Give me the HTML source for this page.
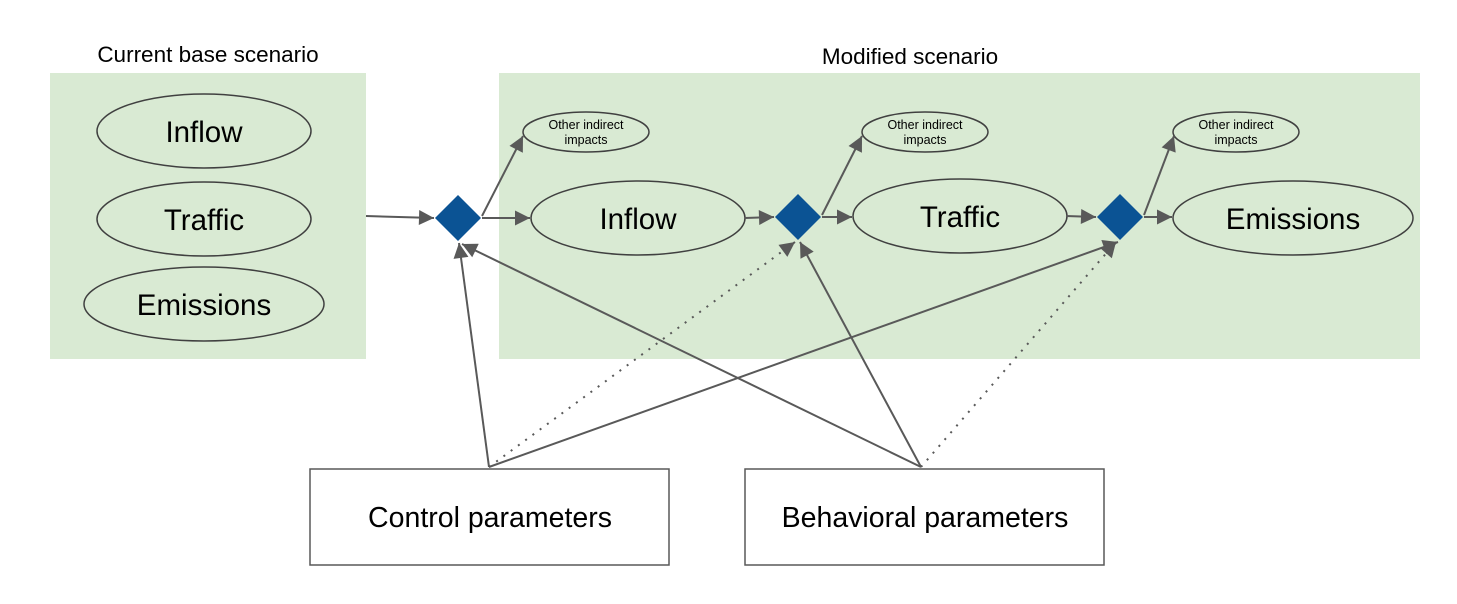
<!DOCTYPE html>
<html><head><meta charset="utf-8"><style>body{margin:0;background:#fff}</style></head>
<body>
<svg width="1457" height="599" viewBox="0 0 1457 599" xmlns="http://www.w3.org/2000/svg" font-family="Liberation Sans, Arial, sans-serif">
<defs>
<marker id="b" viewBox="0 0 10 10" refX="10" refY="5" markerWidth="18" markerHeight="15" markerUnits="userSpaceOnUse" orient="auto"><path d="M0,0L10,5L0,10z" fill="#595959"/></marker>
</defs>
<rect x="50" y="73" width="316" height="286" fill="#d9ead3"/>
<rect x="499" y="73" width="921" height="286" fill="#d9ead3"/>
<text x="208" y="62" font-size="22.5" text-anchor="middle">Current base scenario</text>
<text x="910" y="64" font-size="22.5" text-anchor="middle">Modified scenario</text>
<g fill="#d9ead3" stroke="#404040" stroke-width="1.5">
<ellipse cx="204" cy="131" rx="107" ry="37"/>
<ellipse cx="204" cy="219" rx="107" ry="37"/>
<ellipse cx="204" cy="304" rx="120" ry="37"/>
<ellipse cx="638" cy="218" rx="107" ry="37"/>
<ellipse cx="960" cy="216" rx="107" ry="37"/>
<ellipse cx="1293" cy="218" rx="120" ry="37"/>
<ellipse cx="586" cy="132" rx="63" ry="20"/>
<ellipse cx="925" cy="132" rx="63" ry="20"/>
<ellipse cx="1236" cy="132" rx="63" ry="20"/>
</g>
<g font-size="29.5" text-anchor="middle">
<text x="204" y="142">Inflow</text>
<text x="204" y="230">Traffic</text>
<text x="204" y="315">Emissions</text>
<text x="638" y="229">Inflow</text>
<text x="960" y="227">Traffic</text>
<text x="1293" y="229">Emissions</text>
</g>
<g font-size="12.5" text-anchor="middle">
<text x="586" y="129">Other indirect</text><text x="586" y="144">impacts</text>
<text x="925" y="129">Other indirect</text><text x="925" y="144">impacts</text>
<text x="1236" y="129">Other indirect</text><text x="1236" y="144">impacts</text>
</g>
<g fill="#0b5394">
<path d="M458,195L481,218L458,241L435,218z"/>
<path d="M798,194L821,217L798,240L775,217z"/>
<path d="M1120,194L1143,217L1120,240L1097,217z"/>
</g>
<g stroke="#595959" stroke-width="2" fill="none" marker-end="url(#b)">
<line x1="366" y1="216" x2="434" y2="218"/>
<line x1="482" y1="218" x2="530" y2="218"/>
<line x1="482" y1="216" x2="523" y2="136"/>
<line x1="745" y1="218" x2="774" y2="217"/>
<line x1="822" y1="217" x2="852" y2="217"/>
<line x1="822" y1="215" x2="862" y2="136"/>
<line x1="1066" y1="216" x2="1096" y2="217"/>
<line x1="1144" y1="217" x2="1172" y2="217"/>
<line x1="1144" y1="215" x2="1174" y2="136"/>
<line x1="489" y1="467" x2="459" y2="243"/>
<line x1="489" y1="467" x2="1118" y2="242"/>
<line x1="921" y1="467" x2="462" y2="244"/>
<line x1="921" y1="467" x2="800" y2="242"/>
</g>
<g stroke="#595959" stroke-width="2" fill="none" stroke-dasharray="2,7" marker-end="url(#b)">
<line x1="489" y1="467" x2="795" y2="242"/>
<line x1="921" y1="467" x2="1116" y2="242"/>
</g>
<rect x="310" y="469" width="359" height="96" fill="#fff" stroke="#595959" stroke-width="1.5"/>
<rect x="745" y="469" width="359" height="96" fill="#fff" stroke="#595959" stroke-width="1.5"/>
<text x="490" y="527" font-size="28.5" text-anchor="middle">Control parameters</text>
<text x="925" y="527" font-size="28.5" text-anchor="middle">Behavioral parameters</text>
</svg>
</body></html>
